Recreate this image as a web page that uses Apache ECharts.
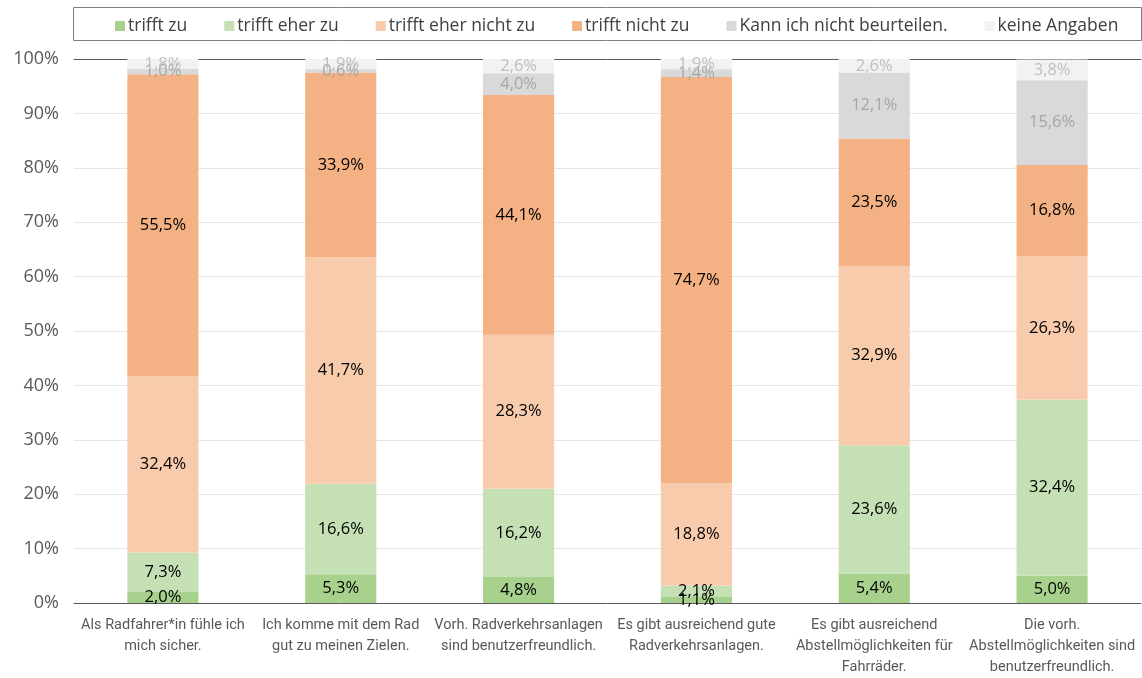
<!DOCTYPE html>
<html><head><meta charset="utf-8">
<script src="https://cdn.jsdelivr.net/npm/echarts@6/dist/echarts.min.js"></script>
<style>html,body{margin:0;padding:0;background:#fff}#c{width:1142px;height:678px}</style>
</head><body><div id="c"></div>
<script>
const categories = [
  "Als Radfahrer*in fühle ich\nmich sicher.",
  "Ich komme mit dem Rad\ngut zu meinen Zielen.",
  "Vorh. Radverkehrsanlagen\nsind benutzerfreundlich.",
  "Es gibt ausreichend gute\nRadverkehrsanlagen.",
  "Es gibt ausreichend\nAbstellmöglichkeiten für\nFahrräder.",
  "Die vorh.\nAbstellmöglichkeiten sind\nbenutzerfreundlich."
];
const seriesNames = ["trifft zu","trifft eher zu","trifft eher nicht zu","trifft nicht zu","Kann ich nicht beurteilen.","keine Angaben"];
const trifftZu = [2.0, 5.3, 4.8, 1.1, 5.4, 5.0];
const trifftEherZu = [7.3, 16.6, 16.2, 2.1, 23.6, 32.4];
const trifftEherNichtZu = [32.4, 41.7, 28.3, 18.8, 32.9, 26.3];
const trifftNichtZu = [55.5, 33.9, 44.1, 74.7, 23.5, 16.8];
const kannNicht = [1.0, 0.6, 4.0, 1.4, 12.1, 15.6];
const keineAngaben = [1.8, 1.9, 2.6, 1.9, 2.6, 3.8];
const yTicks = [0,10,20,30,40,50,60,70,80,90,100];

const colors = ["#A9D18E","#C5E0B4","#F8CBAD","#F4B183","#D9D9D9","#F2F2F2"];
const labelColors = ["#000","#000","#000","#000","#A6A6A6","#BFBFBF"];
const allData = [trifftZu, trifftEherZu, trifftEherNichtZu, trifftNichtZu, kannNicht, keineAngaben];

const chart = echarts.init(document.getElementById('c'));
chart.setOption({
  animation:false,
  color: colors,
  graphic:[{type:'rect', shape:{x:73.5,y:7.5,width:1068,height:33}, style:{fill:null,stroke:'#7F7F7F',lineWidth:1}}],
  legend:{
    top:12, left:110, itemWidth:10, itemHeight:10, itemGap:37,
    textStyle:{fontFamily:'Open Sans', fontSize:17.5, color:'#404040', padding:[0,0,0,-2]},
    icon:'rect',
    data: seriesNames
  },
  grid:{left:74, right:1, top:59, bottom:73},
  xAxis:[{
    type:'category', data:categories,
    axisLine:{lineStyle:{color:'#595959'}},
    axisTick:{show:false},
    axisLabel:{interval:0, color:'#595959', fontFamily:'Roboto', fontSize:14.5, lineHeight:21, margin:12}
  },{
    type:'category', data:categories, position:'top',
    axisLine:{lineStyle:{color:'#595959'}}, axisTick:{show:false}, axisLabel:{show:false}
  }],
  yAxis:{
    type:'value', min:0, max:100, interval:10,
    axisLabel:{formatter:v=>v+'%', color:'#595959', fontFamily:'Open Sans', fontSize:18, margin:15},
    axisLine:{show:false}, axisTick:{show:false},
    splitLine:{lineStyle:{color:'#E6E6E6'}}
  },
  series: seriesNames.map((n,i)=>({
    name:n, type:'bar', stack:'a', barWidth:'40%',
    data: allData[i],
    itemStyle:{color:colors[i]},
    label:{show:true, position:'inside', color:labelColors[i],
      fontFamily:'Open Sans', fontSize:16.5,
      formatter:p=>p.value.toFixed(1).replace('.',',')+'%'}
  }))
});
</script></body></html>
